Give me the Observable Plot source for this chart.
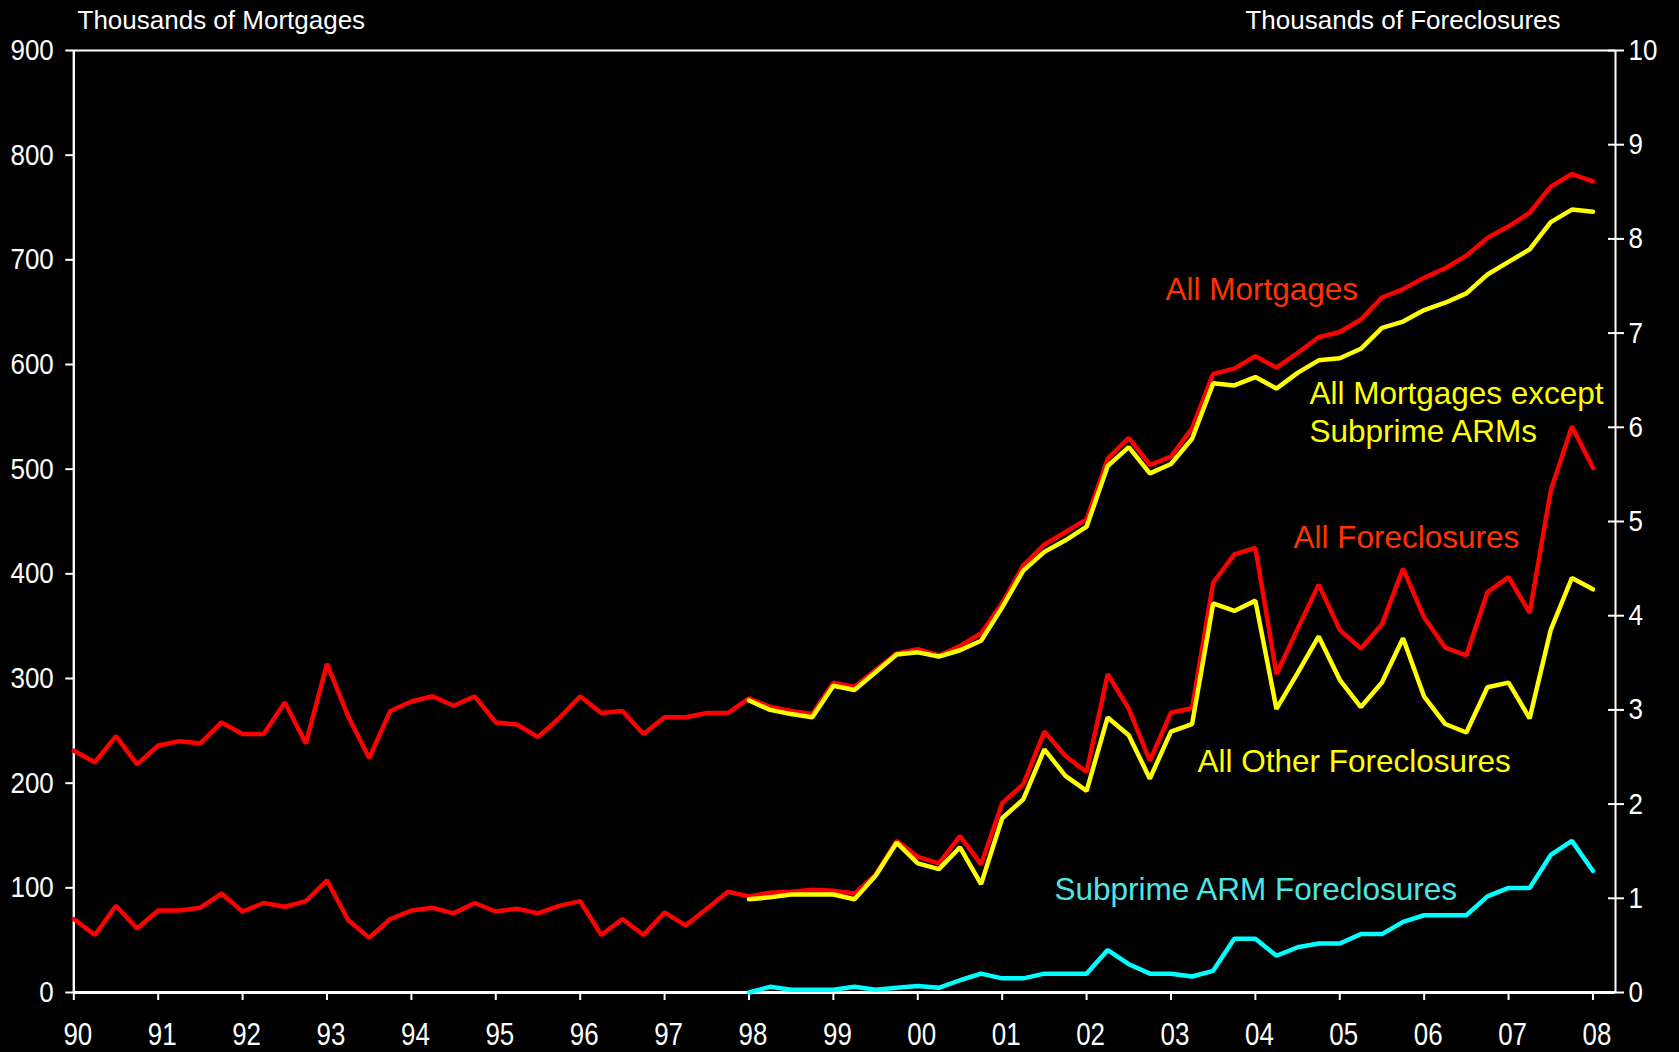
<!DOCTYPE html>
<html>
<head>
<meta charset="utf-8">
<script src="https://cdn.jsdelivr.net/npm/d3@7"></script>
<script src="https://cdn.jsdelivr.net/npm/@observablehq/plot@0.6"></script>
<style>
  html, body { margin: 0; padding: 0; background: #000; overflow: hidden; }
  #chart svg { display: block; }
</style>
</head>
<body>
<div id="chart"></div>
<script>
// ---------------- DATA ----------------
// Quarterly, 1990Q1 .. 2008Q1 (73 quarters)
const allStart = 1990;
// Thousands of mortgages (left axis)
const allMortgages = [
  231, 220, 245, 218,   // 90
  236, 240, 238, 258,   // 91
  247, 247, 277, 238,   // 92
  314, 264, 224, 269,   // 93
  278, 283, 274, 283,   // 94
  258, 256, 244, 262,   // 95
  283, 267, 269, 247,   // 96
  263, 263, 267, 267,   // 97
  281, 273, 269, 266,   // 98
  296, 292, 308, 324,   // 99
  328, 322, 331, 343,   // 00
  372, 408, 428, 440,   // 01
  452, 510, 530, 504,   // 02
  512, 539, 591, 596,   // 03
  608, 597, 611, 626,   // 04
  631, 643, 664, 672,   // 05
  683, 692, 704, 721,   // 06
  732, 745, 770, 782,   // 07
  775                   // 08
];
// Thousands of foreclosures (right axis)
const allForeclosures = [
  0.78, 0.61, 0.92, 0.68,   // 90
  0.87, 0.87, 0.90, 1.05,   // 91
  0.86, 0.95, 0.91, 0.97,   // 92
  1.19, 0.77, 0.58, 0.78,   // 93
  0.87, 0.90, 0.84, 0.95,   // 94
  0.86, 0.89, 0.84, 0.92,   // 95
  0.97, 0.61, 0.78, 0.61,   // 96
  0.85, 0.71, 0.89, 1.07,   // 97
  1.02, 1.06, 1.07, 1.09,   // 98
  1.08, 1.05, 1.25, 1.61,   // 99
  1.44, 1.37, 1.66, 1.36,   // 00
  2.01, 2.21, 2.77, 2.51,   // 01
  2.34, 3.38, 3.01, 2.46,   // 02
  2.97, 3.02, 4.35, 4.65,   // 03
  4.72, 3.38, 3.86, 4.33,   // 04
  3.85, 3.65, 3.91, 4.50,   // 05
  3.98, 3.66, 3.58, 4.25,   // 06
  4.41, 4.03, 5.33, 6.01,   // 07
  5.57                      // 08
];

// Quarterly, 1998Q1 .. 2008Q1 (41 quarters)
const subStart = 1998;
const mortgagesExSubprimeARMs = [
  279, 270, 266, 263,   // 98
  293, 289, 306, 323,   // 99
  325, 321, 327, 336,   // 00
  368, 403, 421, 432,   // 01
  445, 503, 521, 496,   // 02
  505, 529, 582, 580,   // 03
  588, 577, 592, 604,   // 04
  606, 615, 635, 641,   // 05
  652, 659, 668, 686,   // 06
  698, 710, 736, 748,   // 07
  746                   // 08
];
const otherForeclosures = [
  0.99, 1.01, 1.04, 1.04,   // 98
  1.04, 0.99, 1.24, 1.59,   // 99
  1.37, 1.31, 1.54, 1.15,   // 00
  1.85, 2.05, 2.58, 2.30,   // 01
  2.14, 2.92, 2.73, 2.27,   // 02
  2.77, 2.85, 4.13, 4.05,   // 03
  4.16, 3.01, 3.39, 3.78,   // 04
  3.32, 3.03, 3.29, 3.76,   // 05
  3.14, 2.85, 2.76, 3.24,   // 06
  3.29, 2.91, 3.85, 4.40,   // 07
  4.28                      // 08
];
const subprimeARMForeclosures = [
  0.00, 0.06, 0.03, 0.03,   // 98
  0.03, 0.06, 0.03, 0.05,   // 99
  0.07, 0.05, 0.13, 0.20,   // 00
  0.15, 0.15, 0.20, 0.20,   // 01
  0.20, 0.45, 0.30, 0.20,   // 02
  0.20, 0.17, 0.23, 0.57,   // 03
  0.57, 0.39, 0.48, 0.52,   // 04
  0.52, 0.62, 0.62, 0.75,   // 05
  0.82, 0.82, 0.82, 1.02,   // 06
  1.11, 1.11, 1.46, 1.61,   // 07
  1.29                      // 08
];

// Axis ticks
const yearTicks = d3.range(1990, 2009);
const leftTicks = [0, 100, 200, 300, 400, 500, 600, 700, 800, 900];
const rightTicks = [0, 1, 2, 3, 4, 5, 6, 7, 8, 9, 10];
const rightRatio = 90; // 10 thousand foreclosures == 900 thousand mortgages

const leftTitle = "Thousands of Mortgages";
const rightTitle = "Thousands of Foreclosures";

const seriesLabels = [
  {text: "All Mortgages", x: 2002.935, y: 662, color: "#ff3300"},
  {text: "All Mortgages except", x: 2004.641, y: 562, color: "#ffff00"},
  {text: "Subprime ARMs", x: 2004.641, y: 526, color: "#ffff00"},
  {text: "All Foreclosures", x: 2004.452, y: 425, color: "#ff3300"},
  {text: "All Other Foreclosures", x: 2003.314, y: 210.5, color: "#ffff00"},
  {text: "Subprime ARM Foreclosures", x: 2001.619, y: 88, color: "#4de6e6"}
];

// ---------------- BUILD ----------------
const toRows = (start, values, k = 1) =>
  values.map((v, i) => ({x: start + i / 4, y: v * k}));

const xMax = 2008.267;
const white = "#ffffff";
const lineW = 4.5;

const chart = Plot.plot({
  width: 1679,
  height: 1052,
  marginTop: 50,
  marginBottom: 60,
  marginLeft: 73.3,
  marginRight: 64,
  style: {background: "#000", color: white, fontFamily: "'Liberation Sans', Arial, Helvetica, sans-serif"},
  x: {domain: [1990, xMax], label: null},
  y: {domain: [0, 900], label: null},
  marks: [
    // axis lines & top frame
    Plot.ruleY([900], {stroke: white, strokeWidth: 2}),
    Plot.ruleX([1990], {stroke: white, strokeWidth: 2.4}),
    Plot.ruleX([xMax], {stroke: white, strokeWidth: 2}),
    // left axis
    Plot.axisY({
      ticks: leftTicks, tickSize: 8, tickPadding: 12, fontSize: 29.5,
      stroke: white, strokeWidth: 2, label: null, tickFormat: d => String(d)
    }),
    // right axis (ticks cross the axis)
    Plot.axisY({
      anchor: "right", ticks: rightTicks.map(d => d * rightRatio), tickSize: 16, dx: -8,
      tickPadding: 5, fontSize: 29.5, stroke: white, strokeWidth: 2, label: null,
      tickFormat: d => String(Math.round(d / rightRatio))
    }),
    // bottom axis
    Plot.axisX({
      ticks: yearTicks, tickSize: 8, tickPadding: 23, fontSize: 30.5,
      stroke: white, strokeWidth: 2, label: null,
      tickFormat: d => String(d % 100).padStart(2, "0")
    }),
    Plot.ruleY([0], {stroke: white, strokeWidth: 3}),
    // series
    Plot.line(toRows(allStart, allMortgages), {x: "x", y: "y", stroke: "#ff0000", strokeWidth: lineW, strokeLinejoin: "miter"}),
    Plot.line(toRows(allStart, allForeclosures, rightRatio), {x: "x", y: "y", stroke: "#ff0000", strokeWidth: lineW, strokeLinejoin: "miter"}),
    Plot.line(toRows(subStart, mortgagesExSubprimeARMs), {x: "x", y: "y", stroke: "#ffff00", strokeWidth: lineW, strokeLinejoin: "miter"}),
    Plot.line(toRows(subStart, otherForeclosures, rightRatio), {x: "x", y: "y", stroke: "#ffff00", strokeWidth: lineW, strokeLinejoin: "miter"}),
    Plot.line(toRows(subStart, subprimeARMForeclosures, rightRatio), {x: "x", y: "y", stroke: "#00ffff", strokeWidth: lineW, strokeLinejoin: "miter"}),
    // series labels
    ...seriesLabels.map(l => Plot.text([l], {
      x: "x", y: "y", text: "text", fill: l.color, fontSize: 31.5,
      textAnchor: "start", lineAnchor: "bottom"
    })),
    // axis titles
    Plot.text([leftTitle], {frameAnchor: "top-left", text: d => d, dx: 3.7, dy: -21.7,
      textAnchor: "start", lineAnchor: "bottom", fill: white, fontSize: 26}),
    Plot.text([rightTitle], {frameAnchor: "top-right", text: d => d, dx: -55, dy: -21.7,
      textAnchor: "end", lineAnchor: "bottom", fill: white, fontSize: 26})
  ]
});

// the tick numbers of the original are slightly condensed
chart.querySelectorAll('g[aria-label$="tick label"] text').forEach(t => {
  const tr = t.getAttribute("transform");
  if (!tr) return;
  const isX = t.parentNode.getAttribute("aria-label").startsWith("x");
  t.setAttribute("transform", isX ? tr.replace(/translate\(([-\d.]+)/, (m, a) => "translate(" + (+a + 4)) + " scale(0.85,1)" : tr + " scale(0.88,1)");
});

document.getElementById("chart").appendChild(chart);
</script>
</body>
</html>
